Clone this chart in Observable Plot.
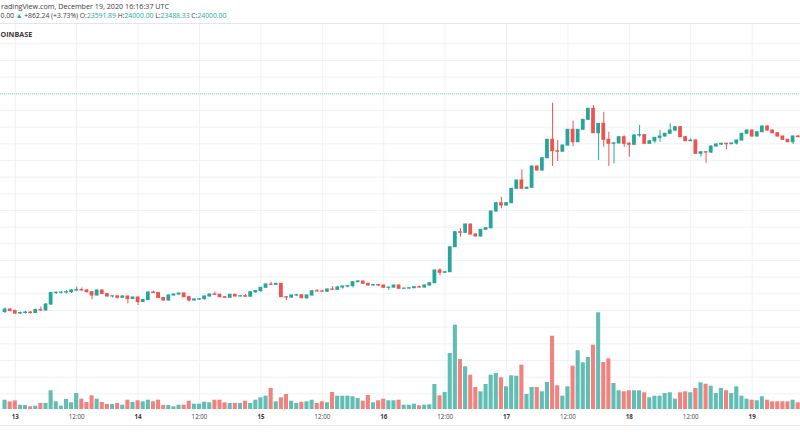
<!DOCTYPE html>
<html><head><meta charset="utf-8">
<script src="https://cdn.jsdelivr.net/npm/d3@7"></script>
<script src="https://cdn.jsdelivr.net/npm/@observablehq/plot@0.6"></script>
<style>
html,body{margin:0;padding:0;background:#fff;}
#wrap{position:relative;width:800px;height:445px;overflow:hidden;background:#fff;font-family:"Open Sans",sans-serif;}
#wrap svg{position:absolute;left:0;top:0;background:transparent;}
.hdr{position:absolute;white-space:nowrap;font-size:7.2px;line-height:8px;color:#3a3a3a;}
.up{color:#26a69a}
.line{position:absolute;left:0;width:800px;height:0;border-top:1px solid #e3e6ec;}
</style></head><body>
<div id="wrap"></div>
<script>
// hourly candles, first one at 2020-12-12 22:00 UTC
const firstCandle = "2020-12-12T22:00:00Z";
const open = [
18763,18823,18787,18727,18739,18751,18739,18811,18800,18943,19219,19226,
19230,19240,19279,19291,19279,19238,19159,19279,19195,19135,
19140,19104,19135,19075,19111,19003,19051,19231,19219,19099,
19039,19159,19183,19207,19118,19039,19063,19070,19135,19183,
19175,19118,19104,19176,19135,19142,19130,19238,19267,19344,
19423,19415,19440,19118,19111,19159,19165,19094,19159,19262,
19255,19250,19303,19295,19351,19375,19385,19478,19495,19440,
19399,19410,19399,19344,19350,19399,19320,19325,19334,19358,
19350,19399,19454,19759,19704,19718,20318,20678,20664,20863,
20623,20575,20736,20774,21175,21374,21319,21374,21720,21919,
21720,21744,22255,22159,22454,22896,22622,22610,22759,23136,
22838,23136,23376,23640,23054,23280,22896,22800,22810,22958,
22800,22776,22999,23010,22800,22862,22944,22975,23040,23119,
23198,22958,22862,22879,22560,22598,22590,22735,22783,22800,
22790,22807,22879,23040,23119,22975,23078,23215,23119,23054,
22975,22896,22838,22975];
const high = [
18859,18847,18811,18763,18775,18775,18835,18883,18967,19231,19243,19255,
19279,19303,19363,19339,19303,19255,19291,19291,19207,19147,
19147,19159,19147,19123,19123,19063,19243,19267,19231,19111,
19171,19195,19219,19219,19135,19087,19087,19147,19195,19243,
19195,19135,19183,19183,19159,19183,19255,19279,19351,19435,
19478,19447,19447,19135,19171,19183,19171,19171,19279,19303,
19291,19315,19375,19387,19387,19395,19495,19519,19507,19447,
19423,19423,19411,19363,19411,19411,19339,19351,19375,19387,
19411,19471,19771,19800,19735,20335,20695,20760,20875,20875,
20647,20743,20791,21187,21391,21518,21391,21727,21931,22176,
21763,22267,22267,22471,22903,23774,22879,22771,23143,23342,
23143,23383,23647,23719,23287,23558,23078,22831,22975,22987,
22831,23011,23239,23020,22879,22951,23119,23047,23280,23215,
23215,22975,22915,22903,22615,22615,22747,22807,22819,22819,
22819,22891,23047,23131,23131,23095,23227,23227,23131,23071,
22987,22903,22987,23000];
const low = [
18727,18763,18703,18703,18715,18715,18727,18787,18790,18919,19183,19195,
19195,19207,19255,19267,19219,19051,19147,19183,19123,19099,
19075,19099,18955,19063,18919,18991,19039,19207,19087,19027,
19027,19147,19171,19111,19003,19027,19039,19051,19123,19159,
19111,19087,19099,19123,19123,19120,19125,19207,19231,19339,
19399,19399,19111,19039,19087,19135,19080,19063,19147,19243,
19243,19231,19291,19291,19315,19340,19340,19471,19435,19387,
19387,19375,19327,19279,19327,19303,19303,19315,19327,19339,
19340,19387,19447,19639,19687,19711,20311,20558,20647,20611,
20563,20563,20731,20760,21163,21240,21310,21367,21715,21715,
21710,21735,22147,22147,22447,22255,22375,22600,22747,22735,
22831,23131,23371,23047,22399,22718,22255,22320,22795,22718,
22478,22771,22958,22795,22790,22805,22838,22963,23035,23095,
22951,22855,22855,22543,22478,22334,22567,22723,22759,22656,
22783,22771,22867,23035,22963,22963,23071,23107,23047,22963,
22879,22831,22783,22950];
const close = [
18823,18787,18727,18739,18751,18739,18811,18800,18943,19219,19226,19230,
19240,19279,19291,19279,19238,19159,19279,19195,19135,19140,
19104,19135,19075,19111,19003,19051,19231,19219,19099,19039,
19159,19183,19207,19118,19039,19063,19070,19135,19183,19175,
19118,19104,19176,19135,19142,19130,19238,19267,19344,19423,
19415,19440,19118,19111,19159,19165,19094,19159,19262,19255,
19250,19303,19295,19351,19375,19385,19478,19495,19440,19399,
19410,19399,19344,19350,19399,19320,19325,19334,19358,19350,
19399,19454,19759,19704,19718,20318,20678,20664,20863,20623,
20575,20736,20774,21175,21374,21319,21374,21720,21919,21720,
21744,22255,22159,22454,22896,22622,22610,22759,23136,22838,
23136,23376,23640,23054,23280,22896,22800,22810,22958,22800,
22776,22999,23010,22800,22862,22944,22975,23040,23119,23198,
22958,22862,22879,22560,22598,22590,22735,22783,22800,22790,
22807,22879,23040,23119,22975,23078,23215,23119,23054,22975,
22896,22838,22975,22960];
const volume = [
186,152,172,86,80,54,66,120,120,374,154,66,
200,134,320,206,140,274,206,140,100,100,
120,86,186,140,174,154,186,154,186,80,
80,54,86,86,166,106,106,146,134,186,
186,134,120,120,120,166,120,186,234,266,
420,154,234,300,166,120,146,154,186,120,
154,134,340,266,266,266,254,220,166,280,
134,174,206,174,174,186,86,86,106,74,
86,94,500,274,340,1120,1686,1000,854,686,
440,354,500,686,720,634,454,674,666,886,
300,440,440,354,540,1466,474,266,454,866,
1174,934,1040,1286,1934,940,1014,520,374,354,
374,374,374,334,234,266,266,320,334,206,
334,354,334,420,534,506,466,320,420,374,
320,454,266,206,186,174,254,186,154,154,
154,154,186,134];

// time axis
const tickTimes = ["2020-12-13T00:00Z","2020-12-13T12:00Z","2020-12-14T00:00Z","2020-12-14T12:00Z",
  "2020-12-15T00:00Z","2020-12-15T12:00Z","2020-12-16T00:00Z","2020-12-16T12:00Z",
  "2020-12-17T00:00Z","2020-12-17T12:00Z","2020-12-18T00:00Z","2020-12-18T12:00Z","2020-12-19T00:00Z"];
const tickLabels = ["13","12:00","14","12:00","15","12:00","16","12:00","17","12:00","18","12:00","19"];
const viewStart = "2020-12-12T21:06:30Z";
const viewEnd = "2020-12-19T09:27:00Z";

// price grid & last price
const gridPrices = [16800,17200,17600,18000,18400,18800,19200,19600,20000,20400,20800,21200,21600,22000,22400,22800,23200,23600,24000,24400,24800,25200];
const lastPrice = 24000;

// legend (as visible in the cropped screenshot)
const legendTitle = "radingView.com, December 19, 2020 16:16:37 UTC";
const legendLast = "0.00";
const legendChange = "+862.24 (+3.73%)";
const legendOHLC = [["O:", "23591.89"], ["H:", "24000.00"], ["L:", "23488.33"], ["C:", "24000.00"]];
const legendExchange = "OINBASE";

const UP = "#26a69a", DOWN = "#ef5350", UPV = "#62bdb4", DOWNV = "#f2827e", GRID = "#eff1f5";
const HOUR = 3600e3;
const t0 = +new Date(firstCandle);
const candles = open.map((o, i) => ({
  time: new Date(t0 + i * HOUR), open: o, high: high[i], low: low[i], close: close[i], volume: volume[i]
}));
const ups = candles.filter(d => d.close >= d.open);
const downs = candles.filter(d => d.close < d.open);
const ticks = tickTimes.map((t, i) => ({time: new Date(t), label: tickLabels[i]}));
const dayTicks = ticks.filter(d => !d.label.includes(":"));
const halfTicks = ticks.filter(d => d.label.includes(":"));

const xScale = {type: "utc", domain: [new Date(viewStart), new Date(viewEnd)], range: [0, 800], axis: null};
const bw = 0.37 * HOUR, vw = 0.4 * HOUR;

const pricePlot = Plot.plot({
  width: 800, height: 445, marginLeft: 0, marginRight: 0, marginTop: 23, marginBottom: 36,
  x: xScale,
  y: {domain: [16800, 26000], range: [393.3, 10], axis: null},
  style: {background: "transparent", fontFamily: "Open Sans, sans-serif"},
  marks: [
    Plot.ruleY(gridPrices, {stroke: GRID}),
    Plot.ruleX(ticks, {x: "time", stroke: GRID}),
    Plot.ruleY([lastPrice], {stroke: UP, strokeOpacity: 0.45, strokeDasharray: "1,1"}),
    Plot.ruleX(ups, {x: "time", y1: "low", y2: "high", stroke: UP}),
    Plot.ruleX(downs, {x: "time", y1: "low", y2: "high", stroke: DOWN}),
    Plot.rect(ups, {x1: d => new Date(+d.time - bw), x2: d => new Date(+d.time + bw), y1: "open", y2: "close", fill: UP, insetTop: -0.5, insetBottom: -0.5}),
    Plot.rect(downs, {x1: d => new Date(+d.time - bw), x2: d => new Date(+d.time + bw), y1: "open", y2: "close", fill: DOWN, insetTop: -0.5, insetBottom: -0.5}),
    Plot.text(dayTicks, {x: "time", text: "label", frameAnchor: "bottom", dy: 9.5, fontSize: 6.2, fontWeight: 700, fill: "#3a3a3a"}),
    Plot.text(halfTicks, {x: "time", text: "label", frameAnchor: "bottom", dy: 9.5, fontSize: 6.2, fill: "#444"})
  ]
});

const volPlot = Plot.plot({
  width: 800, height: 445, marginLeft: 0, marginRight: 0, marginTop: 0, marginBottom: 0,
  x: xScale,
  y: {domain: [0, 2000], range: [409, 309], axis: null},
  style: {background: "transparent"},
  marks: [
    Plot.rectY(ups, {x1: d => new Date(+d.time - vw), x2: d => new Date(+d.time + vw), y: "volume", fill: UPV}),
    Plot.rectY(downs, {x1: d => new Date(+d.time - vw), x2: d => new Date(+d.time + vw), y: "volume", fill: DOWNV})
  ]
});

const wrap = document.getElementById("wrap");
wrap.appendChild(pricePlot);
wrap.appendChild(volPlot);

function addLine(top) {
  const l = document.createElement("div");
  l.className = "line"; l.style.top = top + "px";
  wrap.appendChild(l);
}
addLine(23);
addLine(425);

function addText(html, left, top, extra) {
  const d = document.createElement("div");
  d.className = "hdr"; d.style.left = left + "px"; d.style.top = top + "px";
  if (extra) Object.assign(d.style, extra);
  d.innerHTML = html;
  wrap.appendChild(d);
}
addText(legendTitle, 1, 2);
addText(legendLast + ' <span class="up">&#9650;</span> ' + legendChange + ' ' +
  legendOHLC.map(([k, v]) => k + '<span class="up">' + v + '</span>').join(' '), 0.5, 11.5, {fontSize: "6.8px"});
addText(legendExchange, 0.5, 29.5, {fontWeight: "700"});
</script>
</body></html>
